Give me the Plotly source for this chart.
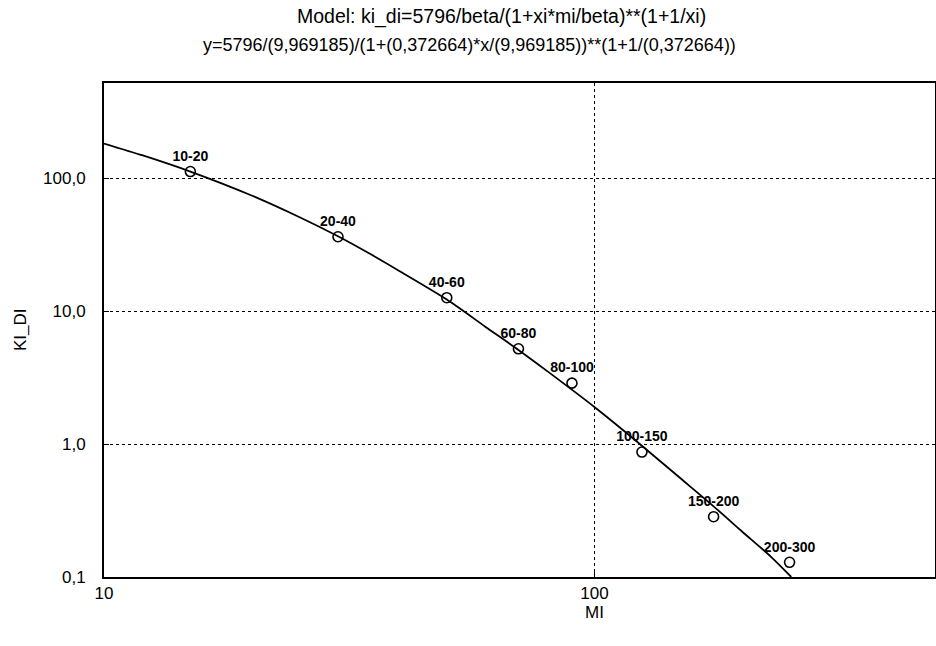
import plotly.graph_objects as go

# observed points (class midpoints) and labels
mi_points = [15, 30, 50, 70, 90, 125, 175, 250]
ki_points = [112, 36.2, 12.6, 5.2, 2.87, 0.87, 0.284, 0.129]
point_labels = ["10-20", "20-40", "40-60", "60-80", "80-100", "100-150", "150-200", "200-300"]

# fitted model curve
mi_curve = [10, 12, 15, 20, 25, 30, 35, 40, 50, 60, 70, 80, 100, 120, 150, 175, 200, 230, 252]
ki_curve = [182, 148, 112, 74, 51, 36.5, 26.7, 20, 12.2, 7.6, 5.1, 3.55, 1.9, 1.1, 0.55, 0.34, 0.22, 0.14, 0.1]

x_ticks = [10, 100]
x_ticktext = ["10", "100"]
y_ticks = [0.1, 1, 10, 100]
y_ticktext = ["0,1", "1,0", "10,0", "100,0"]

title_line1 = "Model: ki_di=5796/beta/(1+xi*mi/beta)**(1+1/xi)"
title_line2 = "y=5796/(9,969185)/(1+(0,372664)*x/(9,969185))**(1+1/(0,372664))"

FONT = "Liberation Sans Narrow, Arial Narrow, Liberation Sans, Arial, sans-serif"

L, R, T, B = 104, 1, 83, 69
W, H = 936, 646
plot_h = H - T - B
plot_w = W - L - R

def py(pix):
    return (H - B - pix) / plot_h

def px(pix):
    return (pix - L) / plot_w

fig = go.Figure()
fig.add_trace(go.Scatter(
    x=mi_curve, y=ki_curve, mode="lines",
    line=dict(color="black", width=1.8, shape="spline", smoothing=0.8),
    hoverinfo="skip", showlegend=False,
))
fig.add_trace(go.Scatter(
    x=mi_points, y=ki_points, mode="markers+text",
    marker=dict(symbol="circle-open", size=10, color="black", line=dict(width=1.6, color="black")),
    text=point_labels, textposition="top center",
    textfont=dict(family=FONT, size=14, color="black", weight="bold"),
    showlegend=False,
))

fig.update_layout(
    width=W, height=H,
    paper_bgcolor="white", plot_bgcolor="white",
    margin=dict(l=L, r=R, t=T, b=B),
    font=dict(family=FONT, size=16, color="black"),
)
fig.add_annotation(text=title_line1, x=px(501), y=py(17), xref="paper", yref="paper",
                   xanchor="center", yanchor="middle",
                   showarrow=False, font=dict(size=19.5, family=FONT, color="black"))
fig.add_annotation(text=title_line2, x=px(469), y=py(45), xref="paper", yref="paper",
                   xanchor="center", yanchor="middle",
                   showarrow=False, font=dict(size=18, family=FONT, color="black"))
fig.add_annotation(text="KI_DI", x=px(20), y=py(330), xref="paper", yref="paper",
                   xanchor="center", yanchor="middle",
                   textangle=-90, showarrow=False, font=dict(size=17, family=FONT, color="black"))
fig.add_annotation(text="MI", x=px(594), y=py(612), xref="paper", yref="paper",
                   xanchor="center", yanchor="middle",
                   showarrow=False, font=dict(size=17, family=FONT, color="black"))

fig.update_xaxes(
    type="log", range=[1, 2.6945], automargin=False,
    tickvals=x_ticks, ticktext=x_ticktext,
    showline=True, linecolor="black", linewidth=2, mirror=True,
    ticks="inside", ticklen=5, tickcolor="black",
    showgrid=True, gridcolor="black", gridwidth=1, griddash="dot",
    zeroline=False,
    tickfont=dict(size=17, family=FONT),
)
fig.update_yaxes(
    type="log", range=[-1, 2.715], automargin=False,
    tickvals=y_ticks, ticktext=y_ticktext,
    showline=True, linecolor="black", linewidth=2, mirror=True,
    ticks="inside", ticklen=5, tickcolor="black",
    showgrid=True, gridcolor="black", gridwidth=1, griddash="dot",
    zeroline=False, ticklabelstandoff=13,
    tickfont=dict(size=17, family=FONT),
)

fig.write_html("out.html", config={"displayModeBar": False},
               post_script="document.body.style.margin='0';document.body.style.overflow='hidden';")
